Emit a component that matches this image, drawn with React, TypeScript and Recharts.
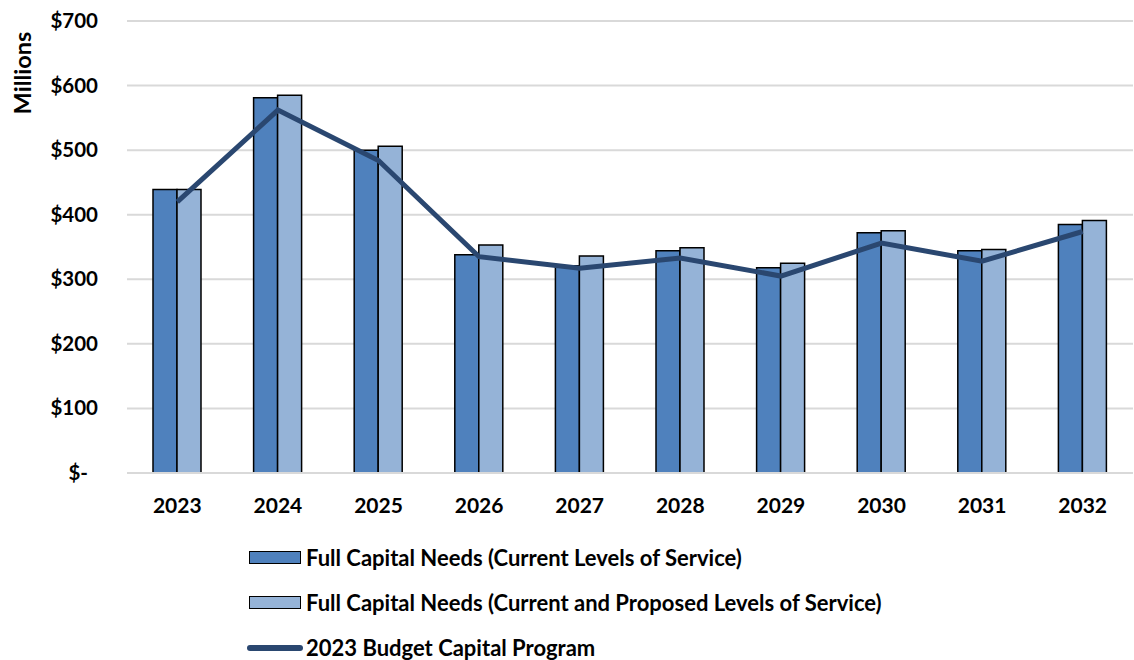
import React from 'react';
import { ComposedChart, Bar, Line, XAxis, YAxis, CartesianGrid } from 'recharts';

const years = ['2023', '2024', '2025', '2026', '2027', '2028', '2029', '2030', '2031', '2032'];
const currentLevels = [439, 581, 500, 338, 321, 344, 318, 372, 344, 385];
const proposedLevels = [439, 585, 506, 353, 336, 349, 325, 375, 346, 391];
const budgetProgram = [420, 562, 484, 335, 317, 333, 305, 356, 328, 374];
const yTicks = [0, 100, 200, 300, 400, 500, 600, 700];

const seriesNames = [
  'Full Capital Needs (Current Levels of Service)',
  'Full Capital Needs (Current and Proposed Levels of Service)',
  '2023 Budget Capital Program',
];

const COLOR_DARK = '#4F81BD';
const COLOR_LIGHT = '#95B3D7';
const COLOR_LINE = '#2A4770';
const FONT = 'Lato, "DejaVu Sans", sans-serif';

const data = years.map((y, i) => ({
  year: y,
  current: currentLevels[i],
  proposed: proposedLevels[i],
  budget: budgetProgram[i],
}));

const YTick = (props: any) => {
  const { x, y, payload } = props;
  const v = payload.value;
  return (
    <text
      x={v === 0 ? x - 10 : x}
      y={y}
      dy={7}
      textAnchor="end"
      fontFamily={FONT}
      fontWeight={700}
      fontSize={20.5}
      fill="#000"
    >
      {v === 0 ? '$-' : `$${v}`}
    </text>
  );
};

const MillionsLabel = () => (
  <text
    transform="translate(31,73) rotate(-90)"
    textAnchor="middle"
    fontFamily={FONT}
    fontWeight={700}
    fontSize={23.5}
    fill="#000"
  >
    Millions
  </text>
);

const legendRowStyle: React.CSSProperties = {
  display: 'flex',
  alignItems: 'center',
  height: 45,
};

const legendTextStyle: React.CSSProperties = {
  fontFamily: FONT,
  fontWeight: 700,
  fontSize: 22,
  color: '#000',
  marginLeft: 5,
  whiteSpace: 'nowrap',
};

export default function App() {
  return (
    <div style={{ position: 'absolute', left: 0, top: 0, width: 1134, height: 660, background: '#fff' }}>
      <ComposedChart
        width={1134}
        height={660}
        data={data}
        margin={{ top: 21, right: 1, left: 0, bottom: 127 }}
        barGap={0}
      >
        <CartesianGrid vertical={false} stroke="#D9D9D9" strokeWidth={2} />
        <XAxis
          dataKey="year"
          height={60}
          axisLine={{ stroke: '#D9D9D9', strokeWidth: 2 }}
          tickLine={false}
          tickMargin={19}
          tick={{ fontFamily: FONT, fontWeight: 700, fontSize: 21, fill: '#000' }}
        />
        <YAxis
          width={127}
          domain={[0, 700]}
          ticks={yTicks}
          axisLine={false}
          tickLine={false}
          tickMargin={23}
          tick={<YTick />}
          label={{ content: <MillionsLabel /> }}
        />
        <Bar dataKey="current" name={seriesNames[0]} fill={COLOR_DARK} stroke="#000" strokeWidth={1.5} barSize={24} isAnimationActive={false} />
        <Bar dataKey="proposed" name={seriesNames[1]} fill={COLOR_LIGHT} stroke="#000" strokeWidth={1.5} barSize={24} isAnimationActive={false} />
        <Line dataKey="budget" name={seriesNames[2]} type="linear" stroke={COLOR_LINE} strokeWidth={5} dot={false} activeDot={false} isAnimationActive={false} />
      </ComposedChart>
      <div style={{ position: 'absolute', left: 247, top: 535 }}>
        <div style={legendRowStyle}>
          <div style={{ width: 50, height: 11, background: COLOR_DARK, border: '1.5px solid #000', marginLeft: 2 }} />
          <span style={legendTextStyle}>{seriesNames[0]}</span>
        </div>
        <div style={legendRowStyle}>
          <div style={{ width: 50, height: 11, background: COLOR_LIGHT, border: '1.5px solid #000', marginLeft: 2 }} />
          <span style={legendTextStyle}>{seriesNames[1]}</span>
        </div>
        <div style={legendRowStyle}>
          <div style={{ width: 56, height: 6, background: COLOR_LINE, borderRadius: 3 }} />
          <span style={{ ...legendTextStyle, marginLeft: 3 }}>{seriesNames[2]}</span>
        </div>
      </div>
    </div>
  );
}
